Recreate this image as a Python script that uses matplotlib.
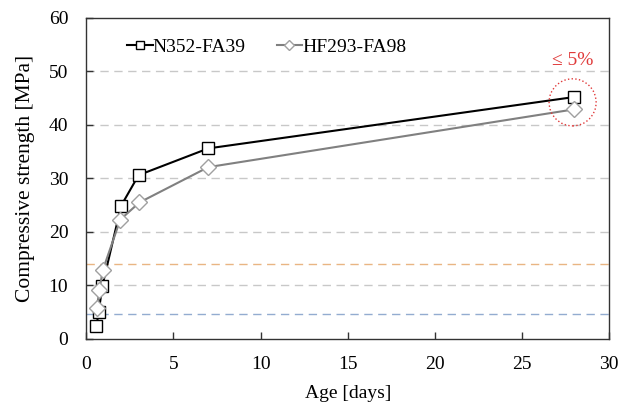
import matplotlib
matplotlib.use("Agg")
import matplotlib.pyplot as plt
from matplotlib.patches import Ellipse

plt.rcParams["font.family"] = ["Liberation Serif", "DejaVu Serif"]

# age [days] and compressive strength [MPa]
age_n352 = [0.58, 0.71, 0.92, 2, 3, 7, 28]
fc_n352 = [2.4, 5.0, 9.9, 24.9, 30.6, 35.6, 45.2]
age_hf293 = [0.6, 0.75, 0.94, 1.95, 3.05, 7, 28]
fc_hf293 = [5.8, 9.1, 12.8, 22.3, 25.5, 32.1, 42.9]

grid_levels = [10, 20, 30, 40, 50]
orange_level = 14.0
blue_level = 4.7

fig = plt.figure(figsize=(6.3, 4.04), dpi=100)
ax = fig.add_axes([0.137, 0.161, 0.830, 0.795])

for g in grid_levels:
    ax.axhline(g, color="#c8c8c8", linestyle=(0, (6, 4)), linewidth=1.0, zorder=0)
ax.axhline(orange_level, color="#e9b583", linestyle=(0, (6, 4)), linewidth=1.0, zorder=0)
ax.axhline(blue_level, color="#93acd0", linestyle=(0, (6, 4)), linewidth=1.0, zorder=0)

ax.plot(age_n352, fc_n352, color="black", linewidth=1.5, marker="s", markersize=9,
        markerfacecolor="white", markeredgecolor="black", markeredgewidth=1.0,
        label="N352-FA39", zorder=3)
ax.plot(age_hf293, fc_hf293, color="#808080", linewidth=1.5, marker="D", markersize=8,
        markerfacecolor="white", markeredgecolor="#a0a0a0", markeredgewidth=1.0,
        label="HF293-FA98", zorder=4)

circ = Ellipse((27.9, 44.2), width=2.7, height=8.8, fill=False, edgecolor="#e03a3a",
               linestyle=":", linewidth=1.0, zorder=5)
ax.add_patch(circ)
ax.text(27.9, 52.0, "≤ 5%", color="#e03a3a", fontsize=14, ha="center", va="center")

ax.set_xlim(0, 30)
ax.set_ylim(0, 60)
ax.set_xticks(range(0, 31, 5))
ax.set_yticks(range(0, 61, 10))
ax.tick_params(direction="in", labelsize=14, length=5, width=1, colors="#333333",
               labelcolor="black")
ax.tick_params(axis="x", pad=12)
ax.tick_params(axis="y", pad=13)
for s in ax.spines.values():
    s.set_color("#333333")
    s.set_linewidth(1.0)

ax.set_xlabel("Age [days]", fontsize=14, labelpad=9)
ax.set_ylabel("Compressive strength [MPa]", fontsize=15.5, labelpad=10)

ax.legend(loc="upper left", bbox_to_anchor=(0.045, 0.99), ncol=2, frameon=False,
          fontsize=14, handlelength=1.3, handletextpad=0.0, columnspacing=1.6,
          markerscale=0.7)

fig.savefig("out.png", dpi=100)
